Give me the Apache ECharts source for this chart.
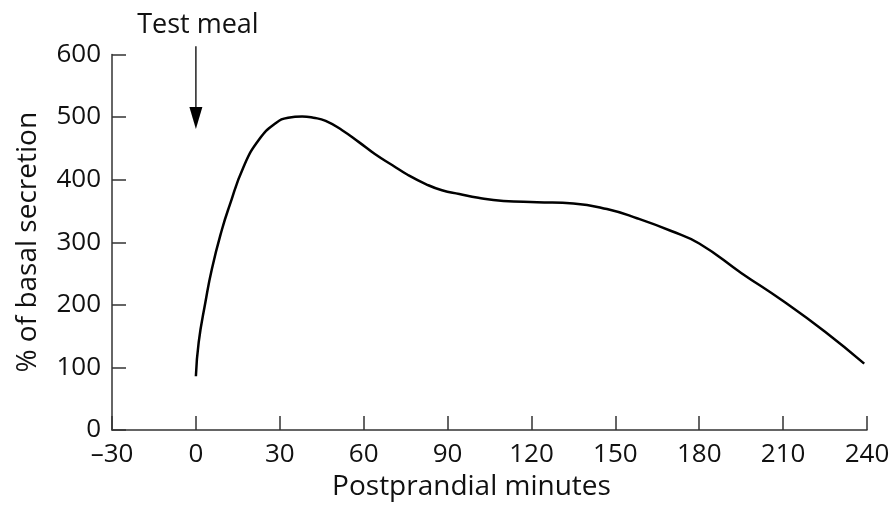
<!DOCTYPE html>
<html><head><meta charset="utf-8">
<script src="https://cdn.jsdelivr.net/npm/echarts@6/dist/echarts.min.js"></script>
<style>html,body{margin:0;padding:0;background:#fff}#c{width:893px;height:513px}</style>
</head><body><div id="c"></div>
<script>
const minutes   = [0, 1, 3.4, 5.7, 9.3, 12, 17, 22.6, 28.5, 33, 38, 42, 46.4, 52.3, 58.3, 64, 70.3, 76, 82.2, 88, 94.2, 101, 110, 122, 135, 147, 158, 170, 180, 195, 210, 225, 239];
const secretion = [86, 140, 204, 257, 320, 358, 420, 464, 490, 499, 501, 499, 494, 479, 460, 441, 423, 407, 393, 383, 377, 371, 366, 364, 362, 353, 338, 318, 298, 251, 206, 157, 106];
const xTicks = [-30, 0, 30, 60, 90, 120, 150, 180, 210, 240];
const yTicks = [0, 100, 200, 300, 400, 500, 600];
const mealTime = 0;
const mealLabel = 'Test meal';
const arrowFrom = 613, arrowTo = 481;

const FONT = 'Open Sans';
const axisColor = '#333';
const chart = echarts.init(document.getElementById('c'));
chart.setOption({
  animation: false,
  grid: {left: 112, right: 26, top: 54.5, bottom: 83},
  xAxis: {
    type: 'value', min: xTicks[0], max: xTicks[xTicks.length - 1], interval: 30,
    name: 'Postprandial minutes', nameLocation: 'middle', nameGap: 43,
    nameTextStyle: {fontFamily: FONT, fontSize: 28, color: '#111', padding: [0, 36, 0, 0]},
    axisLine: {show: true, onZero: false, lineStyle: {color: axisColor, width: 1.5}},
    axisTick: {show: true, inside: true, length: 14, lineStyle: {color: axisColor, width: 1.5}},
    axisLabel: {fontFamily: FONT, fontSize: 26, color: '#111', margin: 12,
      formatter: v => v < 0 ? '\u2013' + Math.abs(v) : String(v)},
    splitLine: {show: false}
  },
  yAxis: {
    type: 'value', min: yTicks[0], max: yTicks[yTicks.length - 1], interval: 100,
    name: '% of basal secretion', nameLocation: 'middle', nameGap: 70,
    nameTextStyle: {fontFamily: FONT, fontSize: 28, color: '#111'},
    axisLine: {show: true, onZero: false, lineStyle: {color: axisColor, width: 1.5}},
    axisTick: {show: true, inside: true, length: 14, lineStyle: {color: axisColor, width: 1.5}},
    axisLabel: {fontFamily: FONT, fontSize: 26, color: '#111', margin: 11, padding: [4, 0, 0, 0]},
    splitLine: {show: false}
  },
  series: [{
    type: 'line',
    data: minutes.map((m, i) => [m, secretion[i]]),
    smooth: 0.5,
    showSymbol: false,
    lineStyle: {color: '#000', width: 2.5}
  }]
});

// "Test meal" arrow, positioned from data values
const pTop = chart.convertToPixel({gridIndex: 0}, [mealTime, arrowFrom]);
const pTip = chart.convertToPixel({gridIndex: 0}, [mealTime, arrowTo]);
const headLen = 22, headHalf = 6.5;
chart.setOption({
  graphic: [
    {type: 'line', silent: true,
     shape: {x1: pTop[0], y1: pTop[1], x2: pTip[0], y2: pTip[1] - headLen + 2},
     style: {stroke: '#222', lineWidth: 1.5}},
    {type: 'polygon', silent: true,
     shape: {points: [[pTip[0] - headHalf, pTip[1] - headLen], [pTip[0] + headHalf, pTip[1] - headLen], [pTip[0], pTip[1]]]},
     style: {fill: '#000'}},
    {type: 'text', silent: true, x: pTop[0] + 2, y: pTop[1] - 21,
     style: {text: mealLabel, fontFamily: FONT, fontSize: 27, fill: '#111', align: 'center', verticalAlign: 'middle'}}
  ]
});
</script></body></html>
